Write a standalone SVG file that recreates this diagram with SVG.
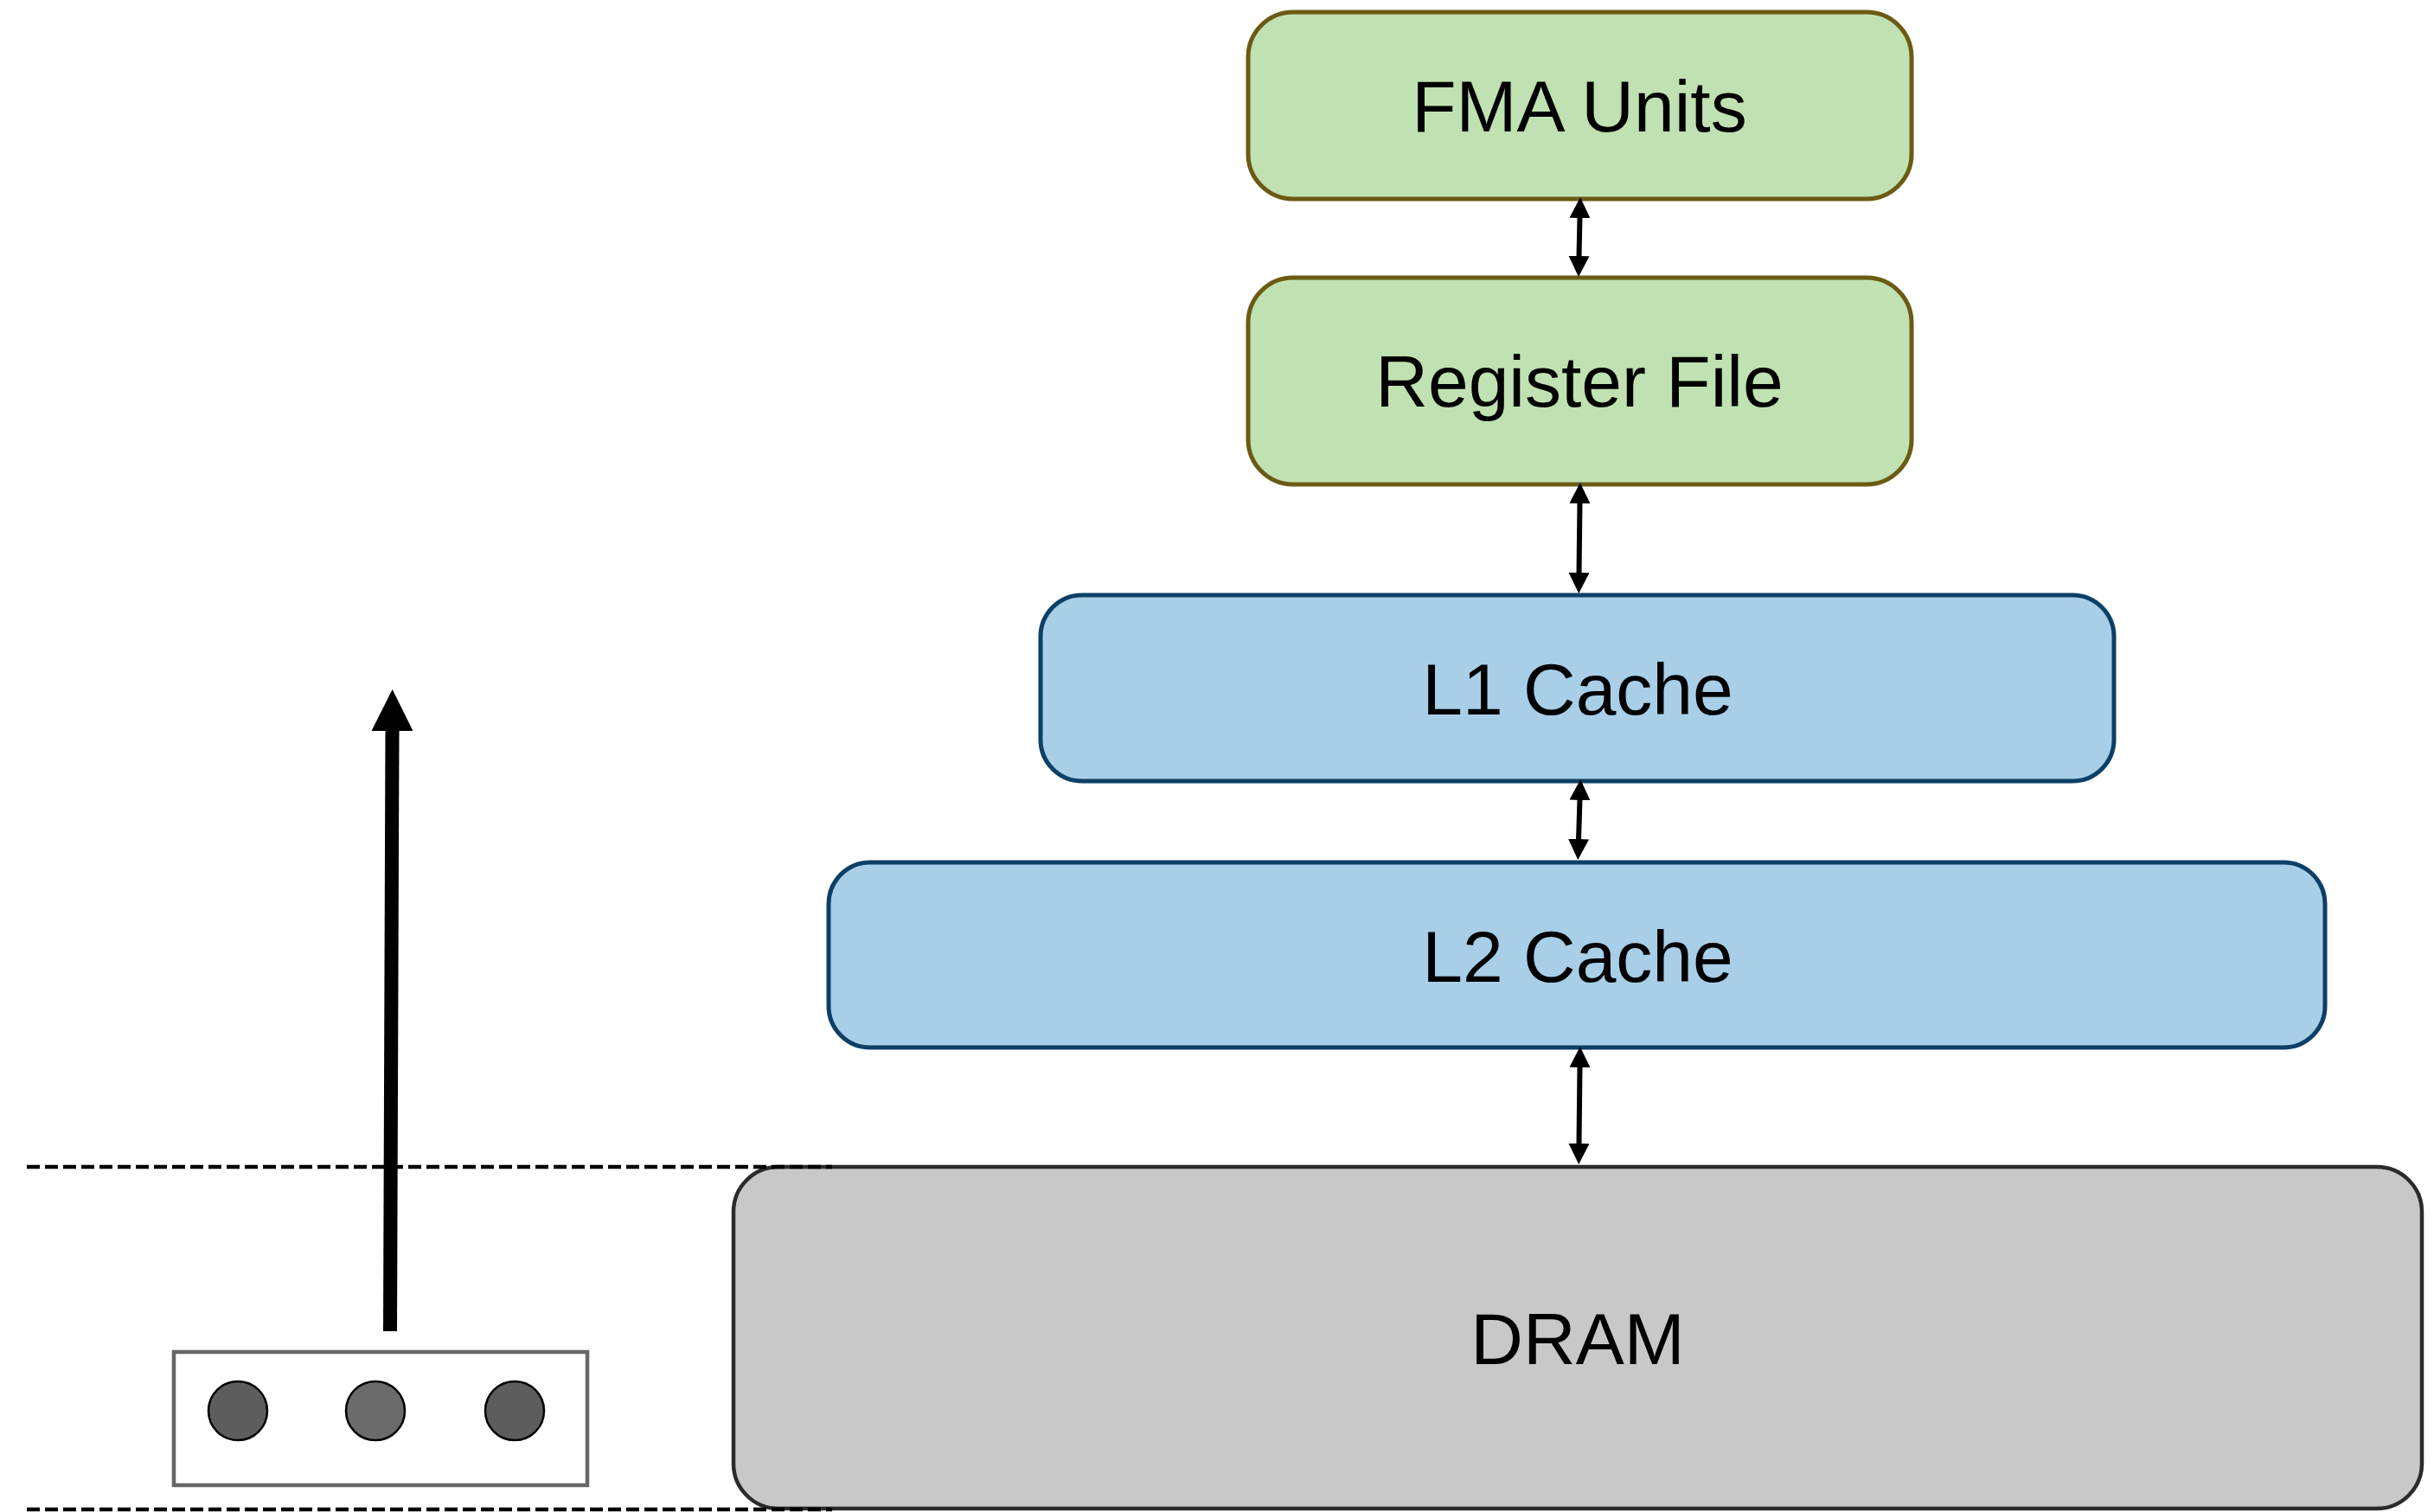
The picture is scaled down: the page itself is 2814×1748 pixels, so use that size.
<svg xmlns="http://www.w3.org/2000/svg" width="2814" height="1748" viewBox="0 0 2814 1748">
<style>
.lbl{font-family:"Liberation Sans",Arial,sans-serif;font-size:84px;fill:#000;text-anchor:middle}
.green{fill:#c0e1b2;stroke:#6b5a12;stroke-width:5}
.blue{fill:#a8cfe7;stroke:#0d3f67;stroke-width:5}
.gray{fill:#c8c8c8;stroke:#2b2b2b;stroke-width:4.5}
.conn{stroke:#000;stroke-width:6;fill:none}
.dash{stroke:#000;stroke-width:4.5;stroke-dasharray:15 6;fill:none}
.dot{stroke:#000;stroke-width:2.5}
</style>
<defs>
<marker id="ah" markerUnits="userSpaceOnUse" markerWidth="25" markerHeight="24" refX="1" refY="12" orient="auto-start-reverse" viewBox="0 0 25 24">
<path d="M0,0 L24,12 L0,24 z" fill="#000"/>
</marker>
<marker id="bigah" markerUnits="userSpaceOnUse" markerWidth="50" markerHeight="48" refX="2" refY="24" orient="auto" viewBox="0 0 50 48">
<path d="M0,0 L48,24 L0,48 z" fill="#000"/>
</marker>
</defs>
<g id="fma"><rect class="green" x="1443" y="14" width="767" height="216" rx="52" ry="52"/><text class="lbl" x="1826" y="152">FMA Units</text></g>
<g id="regfile"><rect class="green" x="1443" y="321" width="767" height="239" rx="52" ry="52"/><text class="lbl" x="1826" y="470">Register File</text></g>
<g id="l1"><rect class="blue" x="1203" y="688" width="1241" height="215" rx="48" ry="48"/><text class="lbl" x="1824" y="826">L1 Cache</text></g>
<g id="l2"><rect class="blue" x="958" y="997" width="1730" height="214" rx="48" ry="48"/><text class="lbl" x="1824" y="1135">L2 Cache</text></g>
<g id="dram"><rect class="gray" x="848" y="1349" width="1952" height="395" rx="52" ry="52"/><text class="lbl" x="1824" y="1577">DRAM</text></g>
<g id="loader"><rect x="201" y="1563" width="478" height="154" fill="#fff" stroke="#666" stroke-width="4.5"/><circle class="dot" cx="275" cy="1631" r="34" fill="#5d5d5d"/><circle class="dot" cx="434" cy="1631" r="34" fill="#6b6b6b"/><circle class="dot" cx="595" cy="1631" r="34" fill="#5d5d5d"/></g>
<g id="guides"><line class="dash" x1="31" y1="1349" x2="962" y2="1349"/><line class="dash" x1="31" y1="1745" x2="962" y2="1745"/></g>
<g id="connectors">
<line class="conn" x1="1826.5" y1="251" x2="1825.5" y2="297" marker-start="url(#ah)" marker-end="url(#ah)"/>
<line class="conn" x1="1826.5" y1="581" x2="1825.5" y2="663" marker-start="url(#ah)" marker-end="url(#ah)"/>
<line class="conn" x1="1826.5" y1="924" x2="1825" y2="971" marker-start="url(#ah)" marker-end="url(#ah)"/>
<line class="conn" x1="1826.5" y1="1233" x2="1825.5" y2="1323" marker-start="url(#ah)" marker-end="url(#ah)"/>
<line x1="451" y1="1539" x2="453.5" y2="843" stroke="#000" stroke-width="16" marker-end="url(#bigah)"/>
</g>
</svg>
